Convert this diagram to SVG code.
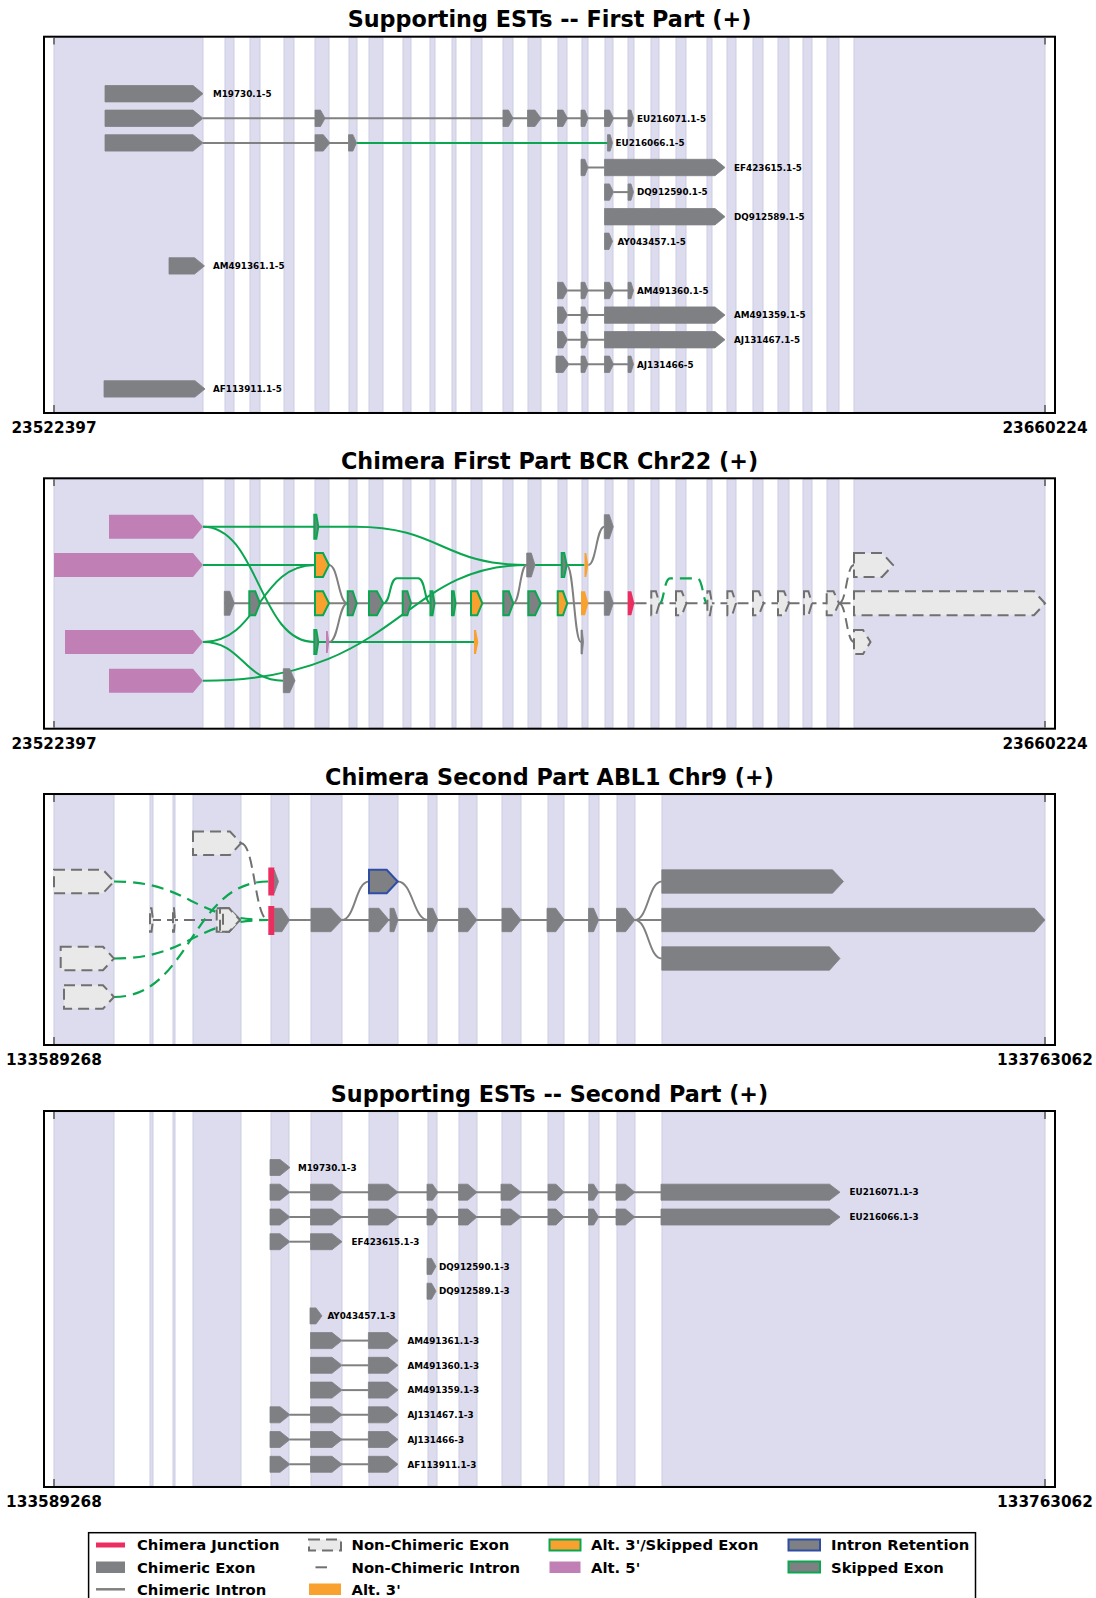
<svg xmlns="http://www.w3.org/2000/svg" width="1096" height="1598" viewBox="0 0 1096 1598">
<style>
text{font-family:"DejaVu Sans","Liberation Sans",sans-serif;font-weight:bold;fill:#000}
.t{font-size:22.3px;text-anchor:middle}
.ax{font-size:15.3px;text-anchor:middle}
.lb{font-size:8.8px}
.lg{font-size:14.8px}
.bd rect{fill:#dcdcee;stroke:#cdcde4;stroke-width:1;vector-effect:non-scaling-stroke}
.fr{fill:none;stroke:#000;stroke-width:2}
.tk{stroke:#555;stroke-width:1.5}
.ex{fill:#7f8084;stroke:#7f8084;stroke-width:0.8;stroke-linejoin:round}
.sk{fill:#7f8084;stroke:#0aa650;stroke-width:2}
.os{fill:#f8a12f;stroke:#0aa650;stroke-width:2}
.or{fill:#f8a12f}
.mg{fill:#c080b6}
.rd{fill:#ec2d5f}
.ir{fill:#7f8084;stroke:#2f4ea3;stroke-width:2}
.nc{fill:#e9e9e9;stroke:#707070;stroke-width:2;stroke-dasharray:11 6}
.in{fill:none;stroke:#808080;stroke-width:2}
.gn{fill:none;stroke:#0aa650;stroke-width:2}
.nd{fill:none;stroke:#707070;stroke-width:2;stroke-dasharray:11 6}
.gd{fill:none;stroke:#0aa650;stroke-width:2.2;stroke-dasharray:12 7}
</style>
<defs>
<g id="bandsA" class="bd">
<rect x="54" y="0" width="149" height="1"/><rect x="225" y="0" width="9" height="1"/><rect x="250" y="0" width="10" height="1"/><rect x="284" y="0" width="10" height="1"/><rect x="315" y="0" width="14" height="1"/><rect x="349" y="0" width="8" height="1"/><rect x="369" y="0" width="14" height="1"/><rect x="403" y="0" width="8" height="1"/><rect x="430" y="0" width="5" height="1"/><rect x="452" y="0" width="4" height="1"/><rect x="471" y="0" width="11" height="1"/><rect x="503" y="0" width="10" height="1"/><rect x="528" y="0" width="13" height="1"/><rect x="558" y="0" width="9" height="1"/><rect x="582" y="0" width="6" height="1"/><rect x="605" y="0" width="8" height="1"/><rect x="628" y="0" width="6" height="1"/><rect x="651" y="0" width="8" height="1"/><rect x="676" y="0" width="10" height="1"/><rect x="707" y="0" width="5" height="1"/><rect x="727" y="0" width="9" height="1"/><rect x="753" y="0" width="10" height="1"/><rect x="778" y="0" width="11" height="1"/><rect x="803" y="0" width="9" height="1"/><rect x="827" y="0" width="12" height="1"/><rect x="854" y="0" width="191" height="1"/>
</g>
<g id="bandsB" class="bd">
<rect x="54" y="0" width="60" height="1"/><rect x="150" y="0" width="3" height="1"/><rect x="173" y="0" width="2" height="1"/><rect x="193" y="0" width="48" height="1"/><rect x="271" y="0" width="18" height="1"/><rect x="311" y="0" width="31" height="1"/><rect x="369" y="0" width="29" height="1"/><rect x="428" y="0" width="9" height="1"/><rect x="459" y="0" width="18" height="1"/><rect x="502" y="0" width="19" height="1"/><rect x="548" y="0" width="16" height="1"/><rect x="589" y="0" width="10" height="1"/><rect x="617" y="0" width="18" height="1"/><rect x="662" y="0" width="383" height="1"/>
</g>
<polygon id="p1O1" class="ex" points="105,-8.2 193,-8.2 203,0 193,8.2 105,8.2"/>
<polygon id="p1A" class="ex" points="315,-8.2 320.5,-8.2 325,0 320.5,8.2 315,8.2"/>
<polygon id="p1B" class="ex" points="503,-8.2 508.5,-8.2 513,0 508.5,8.2 503,8.2"/>
<polygon id="p1C" class="ex" points="527.5,-8.2 535,-8.2 541,0 535,8.2 527.5,8.2"/>
<polygon id="p1D" class="ex" points="557.5,-8.2 563,-8.2 567.5,0 563,8.2 557.5,8.2"/>
<polygon id="p1E" class="ex" points="581,-8.2 584.8,-8.2 588,0 584.8,8.2 581,8.2"/>
<polygon id="p1F" class="ex" points="604.5,-8.2 609.5,-8.2 613.5,0 609.5,8.2 604.5,8.2"/>
<polygon id="p1G" class="ex" points="628,-8.2 631,-8.2 633.5,0 631,8.2 628,8.2"/>
<polygon id="p1H" class="ex" points="315,-8.2 323.3,-8.2 330,0 323.3,8.2 315,8.2"/>
<polygon id="p1I" class="ex" points="348.5,-8.2 352.9,-8.2 356.5,0 352.9,8.2 348.5,8.2"/>
<polygon id="p1J" class="ex" points="607.5,-8.2 610.2,-8.2 612.5,0 610.2,8.2 607.5,8.2"/>
<polygon id="p1K" class="ex" points="604.5,-8.2 715,-8.2 725,0 715,8.2 604.5,8.2"/>
<polygon id="p1L" class="ex" points="604.5,-8.2 609,-8.2 612.5,0 609,8.2 604.5,8.2"/>
<polygon id="p1M" class="ex" points="169,-8.2 194.5,-8.2 204.5,0 194.5,8.2 169,8.2"/>
<polygon id="p1N" class="ex" points="556,-8.2 563.2,-8.2 569,0 563.2,8.2 556,8.2"/>
<polygon id="p1O" class="ex" points="104,-8.2 195,-8.2 205,0 195,8.2 104,8.2"/>
<polygon id="q1" class="ex" points="270,-8 280,-8 290,0 280,8 270,8"/>
<polygon id="q2" class="ex" points="310.5,-8 332,-8 342,0 332,8 310.5,8"/>
<polygon id="q3" class="ex" points="368.4,-8 388,-8 398,0 388,8 368.4,8"/>
<polygon id="q4" class="ex" points="427,-8 432.5,-8 438,0 432.5,8 427,8"/>
<polygon id="q5" class="ex" points="458.6,-8 467.8,-8 477,0 467.8,8 458.6,8"/>
<polygon id="q6" class="ex" points="501,-8 511,-8 521,0 511,8 501,8"/>
<polygon id="q7" class="ex" points="548,-8 556,-8 564,0 556,8 548,8"/>
<polygon id="q8" class="ex" points="588.5,-8 593.6,-8 598.6,0 593.6,8 588.5,8"/>
<polygon id="q9" class="ex" points="616,-8 625.4,-8 634.8,0 625.4,8 616,8"/>
<polygon id="q10" class="ex" points="661,-8 829.5,-8 840,0 829.5,8 661,8"/>
<polygon id="q11" class="ex" points="427,-8 431.5,-8 436,0 431.5,8 427,8"/>
<polygon id="q12" class="ex" points="310,-8 316,-8 322,0 316,8 310,8"/>
<g id="qfull"><use href="#q1"/><use href="#q2"/><use href="#q3"/><use href="#q4"/><use href="#q5"/><use href="#q6"/><use href="#q7"/><use href="#q8"/><use href="#q9"/><use href="#q10"/></g>
<g id="q123"><use href="#q1"/><use href="#q2"/><use href="#q3"/></g>
<g id="q23"><use href="#q2"/><use href="#q3"/></g>
</defs>
<rect x="0" y="0" width="1096" height="1598" fill="#fff"/>

<!-- Panel 1 -->
<g id="panel1">
<text class="t" x="549.5" y="27">Supporting ESTs -- First Part (+)</text>
<use href="#bandsA" transform="translate(0,37.7) scale(1,374.3)"/>
<g id="p1-connectors">
<line class="in" x1="203" y1="118.3" x2="633" y2="118.3"/>
<line class="in" x1="203" y1="142.9" x2="348.5" y2="142.9"/>
<line class="gn" x1="356.5" y1="142.9" x2="608" y2="142.9"/>
<line class="in" x1="588" y1="167.5" x2="604.5" y2="167.5"/>
<line class="in" x1="613.5" y1="192.1" x2="628" y2="192.1"/>
<line class="in" x1="567.5" y1="290.5" x2="628" y2="290.5"/>
<line class="in" x1="567.5" y1="315.1" x2="604.5" y2="315.1"/>
<line class="in" x1="567.5" y1="339.7" x2="604.5" y2="339.7"/>
<line class="in" x1="569" y1="364.3" x2="628" y2="364.3"/>
</g>
<g id="p1-M19730"><use href="#p1O1" y="93.7"/><text class="lb" x="213" y="96.9">M19730.1-5</text></g>
<g id="p1-EU216071"><use href="#p1O1" y="118.3"/><use href="#p1A" y="118.3"/><use href="#p1B" y="118.3"/><use href="#p1C" y="118.3"/><use href="#p1D" y="118.3"/><use href="#p1E" y="118.3"/><use href="#p1F" y="118.3"/><use href="#p1G" y="118.3"/><text class="lb" x="637" y="121.5">EU216071.1-5</text></g>
<g id="p1-EU216066"><use href="#p1O1" y="142.9"/><use href="#p1H" y="142.9"/><use href="#p1I" y="142.9"/><use href="#p1J" y="142.9"/><text class="lb" x="615.5" y="146.1">EU216066.1-5</text></g>
<g id="p1-EF423615"><use href="#p1E" y="167.5"/><use href="#p1K" y="167.5"/><text class="lb" x="734" y="170.7">EF423615.1-5</text></g>
<g id="p1-DQ912590"><use href="#p1F" y="192.1"/><use href="#p1G" y="192.1"/><text class="lb" x="637" y="195.3">DQ912590.1-5</text></g>
<g id="p1-DQ912589"><use href="#p1K" y="216.7"/><text class="lb" x="734" y="219.9">DQ912589.1-5</text></g>
<g id="p1-AY043457"><use href="#p1L" y="241.3"/><text class="lb" x="617.5" y="244.5">AY043457.1-5</text></g>
<g id="p1-AM491361"><use href="#p1M" y="265.9"/><text class="lb" x="213" y="269.1">AM491361.1-5</text></g>
<g id="p1-AM491360"><use href="#p1D" y="290.5"/><use href="#p1E" y="290.5"/><use href="#p1F" y="290.5"/><use href="#p1G" y="290.5"/><text class="lb" x="637" y="293.7">AM491360.1-5</text></g>
<g id="p1-AM491359"><use href="#p1D" y="315.1"/><use href="#p1E" y="315.1"/><use href="#p1K" y="315.1"/><text class="lb" x="734" y="318.3">AM491359.1-5</text></g>
<g id="p1-AJ131467"><use href="#p1D" y="339.7"/><use href="#p1E" y="339.7"/><use href="#p1K" y="339.7"/><text class="lb" x="734" y="342.9">AJ131467.1-5</text></g>
<g id="p1-AJ131466"><use href="#p1N" y="364.3"/><use href="#p1E" y="364.3"/><use href="#p1F" y="364.3"/><use href="#p1G" y="364.3"/><text class="lb" x="637" y="367.5">AJ131466-5</text></g>
<g id="p1-AF113911"><use href="#p1O" y="388.9"/><text class="lb" x="213" y="392.1">AF113911.1-5</text></g>
<rect class="fr" x="44" y="36.7" width="1011" height="376.3"/>
<line class="tk" x1="54" y1="37.7" x2="54" y2="44.5"/><line class="tk" x1="54" y1="405" x2="54" y2="412"/>
<line class="tk" x1="1045" y1="37.7" x2="1045" y2="44.5"/><line class="tk" x1="1045" y1="405" x2="1045" y2="412"/>
<text class="ax" x="54" y="433">23522397</text><text class="ax" x="1045" y="433">23660224</text>
</g>

<!-- Panel 2 -->
<g id="panel2">
<text class="t" x="549.5" y="469">Chimera First Part BCR Chr22 (+)</text>
<use href="#bandsA" transform="translate(0,479.3) scale(1,248.4)"/>
<g id="p2-connectors">
<line class="in" x1="224.3" y1="603.3" x2="635.5" y2="603.3"/>
<path class="gn" d="M203,526.7 L355,526.7 C441.6,526.7 441.6,565 526.7,565"/>
<path class="gn" d="M203,526.7 C258.7,526.7 258.7,642 314.3,642"/>
<line class="gn" x1="203" y1="565" x2="315" y2="565"/>
<path class="gn" d="M203,642 C259,642 259,565 315,565"/>
<path class="gn" d="M203,642 C243,642 243,680.7 283.3,680.7"/>
<path class="gn" d="M203,680.7 C400,680.7 400,565 526.7,565"/>
<line class="gn" x1="535" y1="565" x2="584.5" y2="565"/>
<line class="gn" x1="318.3" y1="642" x2="474" y2="642"/>
<path class="gn" d="M383.3,603.3 C391,603.3 389,578.3 397,578.3 L418,578.3 C426,578.3 424,603.3 430.5,603.3"/>
<path class="in" d="M329,565 C338.3,565 338.3,603.3 347.7,603.3"/>
<path class="in" d="M329.3,642 C338.5,642 338.5,603.3 347.7,603.3"/>
<path class="in" d="M513.3,603.3 C520,603.3 520,565 526.7,565"/>
<path class="in" d="M588.3,565 C596.3,565 596.3,526.7 604.3,526.7"/>
<path class="in" d="M566.7,565 C574,565 574,642 581,642"/>
<line class="nd" x1="635.5" y1="603.3" x2="854" y2="603.3"/>
<path class="gd" d="M659.5,603.3 C664,603.3 664,578.3 670,578.3 L697,578.3 C703,578.3 703,603.3 707.4,603.3"/>
<path class="nd" d="M839,603.3 C846.5,603.3 846.5,565 854,565"/>
<path class="nd" d="M839,603.3 C846.5,603.3 846.5,642 854,642"/>
</g>
<g id="p2-rowA">
<polygon class="mg" points="109,514.7 193,514.7 203,526.7 193,538.7 109,538.7"/>
<polygon class="sk" points="314.3,514.7 316.3,514.7 318.3,526.7 316.3,538.7 314.3,538.7"/>
<polygon class="ex" points="604.3,514.7 609.3,514.7 613.3,526.7 609.3,538.7 604.3,538.7"/>
</g>
<g id="p2-rowB">
<polygon class="mg" points="54,553 193,553 203,565 193,577 54,577"/>
<polygon class="os" points="315,553 323,553 329,565 323,577 315,577"/>
<polygon class="ex" points="526.7,553 531.3,553 535,565 531.3,577 526.7,577"/>
<polygon class="sk" points="561.7,553 564.2,553 566.7,565 564.2,577 561.7,577"/>
<polygon class="or" points="584.5,553 586.3,553 588.3,565 586.3,577 584.5,577"/>
<polygon class="nc" points="854,553 882,553 893,565 882,577 854,577"/>
</g>
<g id="p2-main">
<polygon class="ex" points="224.3,591.3 229.8,591.3 234.3,603.3 229.8,615.3 224.3,615.3"/>
<polygon class="sk" points="249.3,591.3 255.2,591.3 260,603.3 255.2,615.3 249.3,615.3"/>
<polygon class="os" points="315,591.3 323,591.3 329,603.3 323,615.3 315,615.3"/>
<polygon class="sk" points="347.7,591.3 352.7,591.3 356.7,603.3 352.7,615.3 347.7,615.3"/>
<polygon class="sk" points="369,591.3 376.9,591.3 383.3,603.3 376.9,615.3 369,615.3"/>
<polygon class="sk" points="402.7,591.3 407.3,591.3 411,603.3 407.3,615.3 402.7,615.3"/>
<polygon class="sk" points="430.5,591.3 432.5,591.3 434.5,603.3 432.5,615.3 430.5,615.3"/>
<polygon class="sk" points="452,591.3 453.7,591.3 455.5,603.3 453.7,615.3 452,615.3"/>
<polygon class="os" points="471,591.3 477.2,591.3 482.3,603.3 477.2,615.3 471,615.3"/>
<polygon class="sk" points="503.3,591.3 508.8,591.3 513.3,603.3 508.8,615.3 503.3,615.3"/>
<polygon class="sk" points="528.3,591.3 535.1,591.3 540.7,603.3 535.1,615.3 528.3,615.3"/>
<polygon class="os" points="557.7,591.3 563,591.3 567.3,603.3 563,615.3 557.7,615.3"/>
<polygon class="or" points="581,591.3 585,591.3 588.3,603.3 585,615.3 581,615.3"/>
<polygon class="ex" points="604.3,591.3 609.3,591.3 613.3,603.3 609.3,615.3 604.3,615.3"/>
<polygon class="rd" points="627.7,591.3 631.3,591.3 634.3,603.3 631.3,615.3 627.7,615.3"/>
<polygon class="nc" points="651.3,591.3 655.9,591.3 659.5,603.3 655.9,615.3 651.3,615.3"/>
<polygon class="nc" points="676,591.3 681.7,591.3 686.4,603.3 681.7,615.3 676,615.3"/>
<polygon class="nc" points="707.4,591.3 709.9,591.3 712,603.3 709.9,615.3 707.4,615.3"/>
<polygon class="nc" points="727.4,591.3 732.1,591.3 736,603.3 732.1,615.3 727.4,615.3"/>
<polygon class="nc" points="753,591.3 758.8,591.3 763.5,603.3 758.8,615.3 753,615.3"/>
<polygon class="nc" points="778,591.3 784,591.3 789,603.3 784,615.3 778,615.3"/>
<polygon class="nc" points="804,591.3 808.4,591.3 812,603.3 808.4,615.3 804,615.3"/>
<polygon class="nc" points="826.7,591.3 833.5,591.3 839,603.3 833.5,615.3 826.7,615.3"/>
<polygon class="nc" points="854,591.3 1034,591.3 1045,603.3 1034,615.3 854,615.3"/>
</g>
<g id="p2-rowD">
<polygon class="mg" points="65,630 193,630 203,642 193,654 65,654"/>
<polygon class="sk" points="314.3,630 316.3,630 318.3,642 316.3,654 314.3,654"/>
<polygon class="mg" points="326,631 327.7,631 329.3,642 327.7,653 326,653"/>
<polygon class="or" points="474,630 476,630 478.3,642 476,654 474,654"/>
<polygon class="ex" points="581,630 582.3,630 583.5,642 582.3,654 581,654"/>
<polygon class="nc" points="854,630 863,630 870.5,642 863,654 854,654"/>
</g>
<g id="p2-rowE">
<polygon class="mg" points="109,668.7 193,668.7 203,680.7 193,692.7 109,692.7"/>
<polygon class="ex" points="283.3,668.7 289.7,668.7 295,680.7 289.7,692.7 283.3,692.7"/>
</g>
<rect class="fr" x="44" y="478.3" width="1011" height="250.4"/>
<line class="tk" x1="54" y1="479.3" x2="54" y2="486"/><line class="tk" x1="54" y1="721" x2="54" y2="727.7"/>
<line class="tk" x1="1045" y1="479.3" x2="1045" y2="486"/><line class="tk" x1="1045" y1="721" x2="1045" y2="727.7"/>
<text class="ax" x="54" y="748.7">23522397</text><text class="ax" x="1045" y="748.7">23660224</text>
</g>

<!-- Panel 3 -->
<g id="panel3">
<text class="t" x="549.5" y="785">Chimera Second Part ABL1 Chr9 (+)</text>
<use href="#bandsB" transform="translate(0,795) scale(1,249)"/>
<g id="p3-connectors">
<line class="nd" x1="150" y1="920" x2="217" y2="920"/>
<line class="in" x1="274.3" y1="920" x2="661.8" y2="920"/>
<path class="nd" d="M241,843.3 C254.7,843.3 254.7,920 268.3,920"/>
<path class="gd" d="M114,881.5 C191,881.5 191,920 268.3,920"/>
<path class="gd" d="M114,958.5 C191,958.5 191,920 268.3,920"/>
<path class="gd" d="M114,997 C191,997 191,881.5 268.3,881.5"/>
<path class="in" d="M341.7,920 C355.3,920 355.3,881.5 369,881.5"/>
<path class="in" d="M397.7,881.5 C413,881.5 413,920 428.3,920"/>
<path class="in" d="M634.8,920 C648.3,920 648.3,881.5 661.8,881.5"/>
<path class="in" d="M634.8,920 C648.3,920 648.3,958.5 661.8,958.5"/>
</g>
<g id="p3-rowT">
<polygon class="nc" points="193,831.6 230,831.6 241,843.3 230,855 193,855"/>
</g>
<g id="p3-rowB">
<polygon class="nc" points="54,869.8 103,869.8 114,881.5 103,893.2 54,893.2"/>
<polygon class="ex" points="274.3,870 274.3,893 278.5,881.5"/>
<rect class="rd" x="268.3" y="867.5" width="6" height="28"/>
<polygon class="ir" points="369,869.8 386.7,869.8 397.7,881.5 386.7,893.2 369,893.2"/>
<polygon class="ex" points="661.8,869.8 832.5,869.8 843.5,881.5 832.5,893.2 661.8,893.2"/>
</g>
<g id="p3-main">
<polygon class="nc" points="150,908.3 151.5,908.3 153,920 151.5,931.7 150,931.7"/>
<polygon class="nc" points="173,908.3 174,908.3 175,920 174,931.7 173,931.7"/>
<polygon class="nc" points="216.7,908.3 229,908.3 240,920 229,931.7 216.7,931.7"/>
<polygon class="nc" points="220,908.3 229,908.3 240,920 229,931.7 220,931.7"/>
<polygon class="nc" points="223,908.3 229,908.3 240,920 229,931.7 223,931.7"/>
<polygon class="ex" points="274.3,908.3 281.9,908.3 289.5,920 281.9,931.7 274.3,931.7"/>
<rect class="rd" x="268.3" y="906" width="6" height="29"/>
<polygon class="ex" points="311,908.3 331,908.3 342,920 331,931.7 311,931.7"/>
<polygon class="ex" points="369,908.3 379,908.3 389,920 379,931.7 369,931.7"/>
<polygon class="ex" points="390,908.3 394,908.3 398,920 394,931.7 390,931.7"/>
<polygon class="ex" points="427.5,908.3 432.8,908.3 438,920 432.8,931.7 427.5,931.7"/>
<polygon class="ex" points="458.6,908.3 467.8,908.3 477,920 467.8,931.7 458.6,931.7"/>
<polygon class="ex" points="502,908.3 511.5,908.3 521,920 511.5,931.7 502,931.7"/>
<polygon class="ex" points="547,908.3 555.8,908.3 564.5,920 555.8,931.7 547,931.7"/>
<polygon class="ex" points="588.5,908.3 593.6,908.3 598.6,920 593.6,931.7 588.5,931.7"/>
<polygon class="ex" points="616.5,908.3 625.7,908.3 634.8,920 625.7,931.7 616.5,931.7"/>
<polygon class="ex" points="661.8,908.3 1034.5,908.3 1045,920 1034.5,931.7 661.8,931.7"/>
</g>
<g id="p3-rowD">
<polygon class="nc" points="60.7,946.8 103,946.8 114,958.5 103,970.2 60.7,970.2"/>
<polygon class="ex" points="661.8,946.8 829.5,946.8 840,958.5 829.5,970.2 661.8,970.2"/>
</g>
<g id="p3-rowE">
<polygon class="nc" points="64,985.3 103,985.3 114,997 103,1008.7 64,1008.7"/>
</g>
<rect class="fr" x="44" y="794" width="1011" height="251"/>
<line class="tk" x1="54" y1="795" x2="54" y2="802"/><line class="tk" x1="54" y1="1037" x2="54" y2="1044"/>
<line class="tk" x1="1045" y1="795" x2="1045" y2="802"/><line class="tk" x1="1045" y1="1037" x2="1045" y2="1044"/>
<text class="ax" x="54" y="1065">133589268</text><text class="ax" x="1045" y="1065">133763062</text>
</g>

<!-- Panel 4 -->
<g id="panel4">
<text class="t" x="549.5" y="1102">Supporting ESTs -- Second Part (+)</text>
<use href="#bandsB" transform="translate(0,1112) scale(1,374)"/>
<g id="p4-connectors">
<line class="in" x1="290" y1="1192.2" x2="661" y2="1192.2"/>
<line class="in" x1="290" y1="1217" x2="661" y2="1217"/>
<line class="in" x1="290" y1="1241.7" x2="310.5" y2="1241.7"/>
<line class="in" x1="342" y1="1340.6" x2="368.4" y2="1340.6"/>
<line class="in" x1="342" y1="1365.3" x2="368.4" y2="1365.3"/>
<line class="in" x1="342" y1="1390.1" x2="368.4" y2="1390.1"/>
<line class="in" x1="290" y1="1414.8" x2="368.4" y2="1414.8"/>
<line class="in" x1="290" y1="1439.5" x2="368.4" y2="1439.5"/>
<line class="in" x1="290" y1="1464.3" x2="368.4" y2="1464.3"/>
</g>
<g id="p4-M19730"><use href="#q1" y="1167.5"/><text class="lb" x="298" y="1170.7">M19730.1-3</text></g>
<g id="p4-EU216071"><use href="#qfull" y="1192.2"/><text class="lb" x="849.5" y="1195.4">EU216071.1-3</text></g>
<g id="p4-EU216066"><use href="#qfull" y="1217"/><text class="lb" x="849.5" y="1220.2">EU216066.1-3</text></g>
<g id="p4-EF423615"><use href="#q1" y="1241.7"/><use href="#q2" y="1241.7"/><text class="lb" x="351.5" y="1244.9">EF423615.1-3</text></g>
<g id="p4-DQ912590"><use href="#q11" y="1266.4"/><text class="lb" x="439" y="1269.6">DQ912590.1-3</text></g>
<g id="p4-DQ912589"><use href="#q11" y="1291.2"/><text class="lb" x="439" y="1294.4">DQ912589.1-3</text></g>
<g id="p4-AY043457"><use href="#q12" y="1315.9"/><text class="lb" x="327.4" y="1319.1">AY043457.1-3</text></g>
<g id="p4-AM491361"><use href="#q23" y="1340.6"/><text class="lb" x="407.5" y="1343.8">AM491361.1-3</text></g>
<g id="p4-AM491360"><use href="#q23" y="1365.3"/><text class="lb" x="407.5" y="1368.5">AM491360.1-3</text></g>
<g id="p4-AM491359"><use href="#q23" y="1390.1"/><text class="lb" x="407.5" y="1393.3">AM491359.1-3</text></g>
<g id="p4-AJ131467"><use href="#q123" y="1414.8"/><text class="lb" x="407.5" y="1418">AJ131467.1-3</text></g>
<g id="p4-AJ131466"><use href="#q123" y="1439.5"/><text class="lb" x="407.5" y="1442.7">AJ131466-3</text></g>
<g id="p4-AF113911"><use href="#q123" y="1464.3"/><text class="lb" x="407.5" y="1467.5">AF113911.1-3</text></g>
<rect class="fr" x="44" y="1111" width="1011" height="376"/>
<line class="tk" x1="54" y1="1112" x2="54" y2="1119"/><line class="tk" x1="54" y1="1479" x2="54" y2="1486"/>
<line class="tk" x1="1045" y1="1112" x2="1045" y2="1119"/><line class="tk" x1="1045" y1="1479" x2="1045" y2="1486"/>
<text class="ax" x="54" y="1507">133589268</text><text class="ax" x="1045" y="1507">133763062</text>
</g>

<!-- Legend -->
<g id="legend">
<rect x="88.6" y="1532.7" width="886.9" height="80" fill="#fff" stroke="#000" stroke-width="1.5"/>
<g id="leg-junction"><rect class="rd" x="96" y="1542.5" width="29" height="5"/><text class="lg" x="137" y="1550.3">Chimera Junction</text></g>
<g id="leg-chexon"><rect x="96" y="1561.5" width="29" height="11.5" fill="#7f8084"/><text class="lg" x="137" y="1572.6">Chimeric Exon</text></g>
<g id="leg-chintron"><line x1="96" y1="1589.3" x2="125" y2="1589.3" stroke="#808080" stroke-width="2.5"/><text class="lg" x="137" y="1594.6">Chimeric Intron</text></g>
<g id="leg-ncexon"><rect class="nc" x="309" y="1539.5" width="32" height="11"/><text class="lg" x="351.5" y="1550.3">Non-Chimeric Exon</text></g>
<g id="leg-ncintron"><line x1="315.5" y1="1567.3" x2="327" y2="1567.3" stroke="#707070" stroke-width="2"/><text class="lg" x="351.5" y="1572.6">Non-Chimeric Intron</text></g>
<g id="leg-alt3"><rect class="or" x="309" y="1583.5" width="32" height="11.5"/><text class="lg" x="351.5" y="1594.6">Alt. 3'</text></g>
<g id="leg-alt3sk"><rect class="os" x="549.5" y="1539.5" width="31" height="11"/><text class="lg" x="591" y="1550.3">Alt. 3'/Skipped Exon</text></g>
<g id="leg-alt5"><rect class="mg" x="549.5" y="1561.5" width="31" height="11.5"/><text class="lg" x="591" y="1572.6">Alt. 5'</text></g>
<g id="leg-ir"><rect class="ir" x="788.5" y="1539.5" width="31.5" height="11"/><text class="lg" x="831" y="1550.3">Intron Retention</text></g>
<g id="leg-skip"><rect class="sk" x="788.5" y="1561.5" width="31.5" height="11"/><text class="lg" x="831" y="1572.6">Skipped Exon</text></g>
</g>
</svg>
